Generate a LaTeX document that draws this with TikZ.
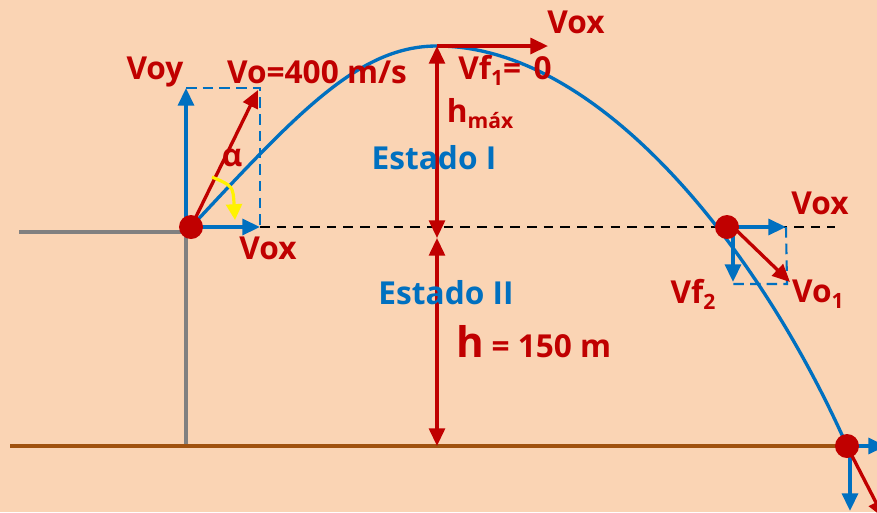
\documentclass[tikz,border=0pt]{standalone}
\usepackage{fontspec}
\setmainfont{Open Sans}
\usetikzlibrary{arrows.meta, calc}
\definecolor{peach}{HTML}{FAD4B4}
\definecolor{darkred}{HTML}{C00000}
\definecolor{skyblue}{HTML}{0070C0}
\definecolor{earth}{HTML}{A0520F}
\newcommand{\lowidx}[1]{\raisebox{-0.35ex}{\fontsize{12}{12}\selectfont #1}}

\begin{document}
\begin{tikzpicture}[
  x=0.02cm, y=-0.02cm,
  font=\bfseries\fontsize{18}{20}\selectfont,
  tip/.style={-{Triangle[length=10pt, width=9pt]}},
  vecblue/.style={tip, line width=2pt, draw=skyblue, fill=skyblue},
  vecred/.style={tip, line width=1.9pt, draw=darkred, fill=darkred},
  hdim/.style={{Triangle[length=10pt, width=9pt]}-{Triangle[length=10pt, width=9pt]},
    line width=1.8pt, draw=darkred},
  guide/.style={line width=1.2pt, draw=skyblue, dash pattern=on 6pt off 3.5pt},
  level/.style={line width=1.2pt, draw=black, dash pattern=on 5.5pt off 4pt},
  trajectory/.style={line width=1.9pt, draw=skyblue},
  ball/.style={circle, fill=darkred, minimum size=0.48cm, inner sep=0pt},
  redlabel/.style={text=darkred, inner sep=0pt},
  bluelabel/.style={text=skyblue, inner sep=0pt},
]

\useasboundingbox (0,0) rectangle (877,512);
\clip (0,0) rectangle (877,512);
\fill[peach] (0,0) rectangle (877,512);

% key points
\coordinate (P0) at (191,227);
\coordinate (P1) at (437,46);
\coordinate (P2) at (727,227);
\coordinate (P3) at (847,446);

% building and ground
\coordinate (roofL) at (19,232);
\coordinate (roofR) at (186,232);
\coordinate (wallB) at (186,448);
\coordinate (groundL) at (10,446);
\coordinate (groundR) at (877,446);
\draw[gray, line width=1.9pt] (roofL) -- (roofR) -- (wallB);
\draw[earth, line width=2pt] (groundL) -- (groundR);

% reference level
\coordinate (levelL) at (260,227);
\coordinate (levelR) at (835,227);
\draw[level] (levelL) -- (levelR);

% path of the body
\draw[trajectory] (P0) .. controls (300,110) and (360,46) .. (P1)
  .. controls (600,46) and (760,250) .. (P3);

% vectors at launch
\coordinate (voyBase) at (186,227);
\coordinate (voyTip) at (186,88);
\coordinate (voxTip) at (260,227);
\coordinate (voTip) at (258,90);
\coordinate (boxTR) at (260,88);
\draw[guide] (voyTip) -- (boxTR) -- (voxTip);
\draw[vecblue] (voyBase) -- (voyTip);
\draw[vecblue] (P0) -- (voxTip);
\draw[vecred] (P0) -- (voTip);
\coordinate (angA) at (212,177);
\coordinate (angB) at (235,220);
\draw[yellow, line width=1.8pt, -{Triangle[length=9pt, width=9pt]}]
  (angA) .. controls (233,186) .. (angB);

% vector at the top
\coordinate (topTip) at (548,46);
\draw[vecred] (P1) -- (topTip);

% heights
\coordinate (hMid) at (437,238);
\coordinate (hBase) at (437,446);
\draw[hdim] (hMid) -- (P1);
\draw[hdim] (hMid) -- (hBase);

% vectors on the way down
\coordinate (p2Base) at (733,227);
\coordinate (p2Vox) at (786,227);
\coordinate (p2Vf) at (733,282);
\coordinate (p2Vo) at (790,282);
\coordinate (p2Box) at (787,284);
\coordinate (p2BoxL) at (733,284);
\draw[guide] (p2Vox) -- (p2Box) -- (p2BoxL);
\draw[vecblue] (p2Base) -- (p2Vox);
\draw[vecblue] (p2Base) -- (p2Vf);
\draw[vecred] (p2Base) -- (p2Vo);

% vectors at the ground
\coordinate (p3Down) at (850,452);
\coordinate (p3Vx) at (886,446);
\coordinate (p3Vy) at (850,511);
\coordinate (p3Vo) at (884,518);
\draw[vecblue] (P3) -- (p3Vx);
\draw[vecblue] (p3Down) -- (p3Vy);
\draw[vecred] (p3Down) -- (p3Vo);

% bodies
\node[ball] (b0) at (P0) {};
\node[ball] (b2) at (P2) {};
\node[ball] (b3) at (P3) {};

% labels
\node[redlabel] (lvoy) at (155,72) {Voy};
\node[redlabel] (lvo) at (317,72) {Vo=400 m/s};
\node[redlabel] (lalpha) at (232,158) {α};
\node[redlabel] (lvox0) at (268,248) {Vox};
\node[redlabel] (lvoxtop) at (576,22) {Vox};
\node[redlabel] (lvf1) at (505,70) {Vf\lowidx{1}=\hspace{7pt}0};
\node[redlabel] (lhmax) at (480,114) {h\lowidx{máx}};
\node[bluelabel] (lest1) at (434,158) {Estado I};
\node[bluelabel] (lest2) at (446,293) {Estado II};
\node[redlabel] (lh) at (534,342) {{\fontsize{24}{26}\selectfont h}\hspace{4pt}= 150 m};
\node[redlabel] (lvox2) at (820,203) {Vox};
\node[redlabel] (lvf2) at (693,294) {Vf\lowidx{2}};
\node[redlabel] (lvo1) at (818,294) {Vo\lowidx{1}};

\end{tikzpicture}
\end{document}
